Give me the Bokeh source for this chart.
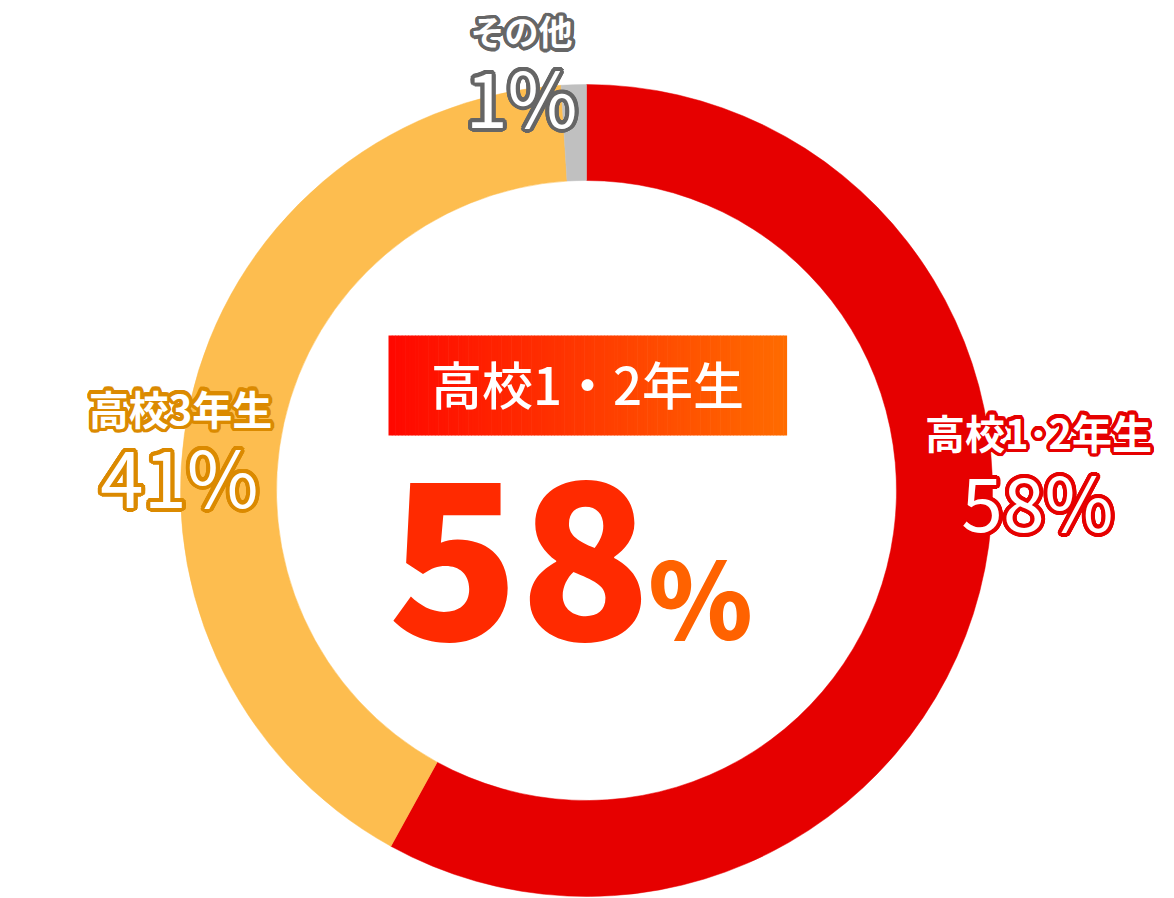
import numpy as np
from bokeh.plotting import figure
from bokeh.models import Range1d, ColumnDataSource
from bokeh.core.properties import value
from bokeh.embed import file_html
from bokeh.resources import INLINE

# ---------------- data ----------------
categories = ["高校1・2年生", "高校3年生", "その他"]
label_names = ["高校1･2年生", "高校3年生", "その他"]
values = [58, 41, 1]
slice_colors = ["#E60000", "#FDBD4F", "#C0C0C0"]
outline_colors = ["#E60000", "#DB8A00", "#666666"]
highlight_name = "高校1・2年生"
highlight_value = 58

# ---------------- layout ----------------
W, H = 1174, 898
CX, CY = 586, 408
R_OUT, R_IN = 406, 310
label_pos = [((1038, 467), (1037, 399)), ((180, 491), (179, 425)), ((521, 868), (521, 804))]
name_sizes = ["40px", "40px", "34px"]
pct_sizes = ["75px", "78px", "76px"]
JP = "Noto Sans CJK JP"

p = figure(width=W, height=H, output_backend="svg", toolbar_location=None,
           x_range=Range1d(0, W), y_range=Range1d(0, H), min_border=0)
p.axis.visible = False
p.grid.visible = False
p.outline_line_color = None
p.background_fill_color = "white"
p.border_fill_color = "white"

# ---------------- donut ----------------
total = float(sum(values))
cum = np.cumsum([0] + values) / total
starts = [np.deg2rad(90 - cum[i + 1] * 360) for i in range(len(values))]
ends = [np.deg2rad(90 - cum[i] * 360) for i in range(len(values))]
src = ColumnDataSource(dict(cat=categories, start=starts, end=ends, color=slice_colors))
p.annular_wedge(x=CX, y=CY, inner_radius=R_IN, outer_radius=R_OUT,
                start_angle="start", end_angle="end", direction="anticlock",
                fill_color="color", line_color="color", line_width=0.5, source=src)

# ---------------- outlined labels ----------------
angles = np.linspace(0, 2 * np.pi, 24, endpoint=False)
def outlined(x, y, txt, size, col, style="bold", rad=3.5):
    xo = list(rad * np.cos(angles))
    yo = list(rad * np.sin(angles))
    n = len(xo)
    p.text(x=[x] * n, y=[y] * n, text=[txt] * n, x_offset=xo, y_offset=yo,
           text_font=value(JP), text_font_size=size, text_font_style=style,
           text_color=col, text_align="center", text_baseline="middle")
    p.text(x=[x], y=[y], text=[txt], text_font=value(JP), text_font_size=size,
           text_font_style=style, text_color="white", text_align="center",
           text_baseline="middle")

for i in range(len(values)):
    (nx, ny), (px_, py_) = label_pos[i]
    outlined(nx, ny, label_names[i], name_sizes[i], outline_colors[i], "bold", 3.5)
    outlined(px_, py_, f"{values[i]}%", pct_sizes[i], outline_colors[i], "normal", 4)

# ---------------- center block ----------------
BX0, BX1, BY0, BY1 = 388, 786, 463, 563
N = 120
xs = np.linspace(BX0, BX1, N + 1)
c0 = np.array([255, 8, 0]); c1 = np.array([255, 108, 0])
grad = ["#%02x%02x%02x" % tuple(int(v) for v in (c0 + (c1 - c0) * t)) for t in np.linspace(0, 1, N)]
p.quad(left=xs[:-1], right=xs[1:] + 0.6, bottom=BY0, top=BY1, fill_color=grad, line_color=None)
p.text(x=[(BX0 + BX1) / 2], y=[(BY0 + BY1) / 2 + 3], text=[highlight_name],
       text_font=value("Noto Sans CJK JP Medium"), text_font_size="51px", text_font_style="normal",
       text_color="white", text_align="center", text_baseline="middle")

big_font = value("Noto Sans CJK JP Black")
p.text(x=[519], y=[339], text=[str(highlight_value)], text_font=big_font,
       text_font_size="216px", text_font_style="normal", text_color="#FF2A00",
       text_align="center", text_baseline="middle")
p.text(x=[700], y=[305], text=["%"], text_font=big_font,
       text_font_size="106px", text_font_style="normal", text_color="#FF6200",
       text_align="center", text_baseline="middle")

open("out.html", "w").write(file_html(p, INLINE))
